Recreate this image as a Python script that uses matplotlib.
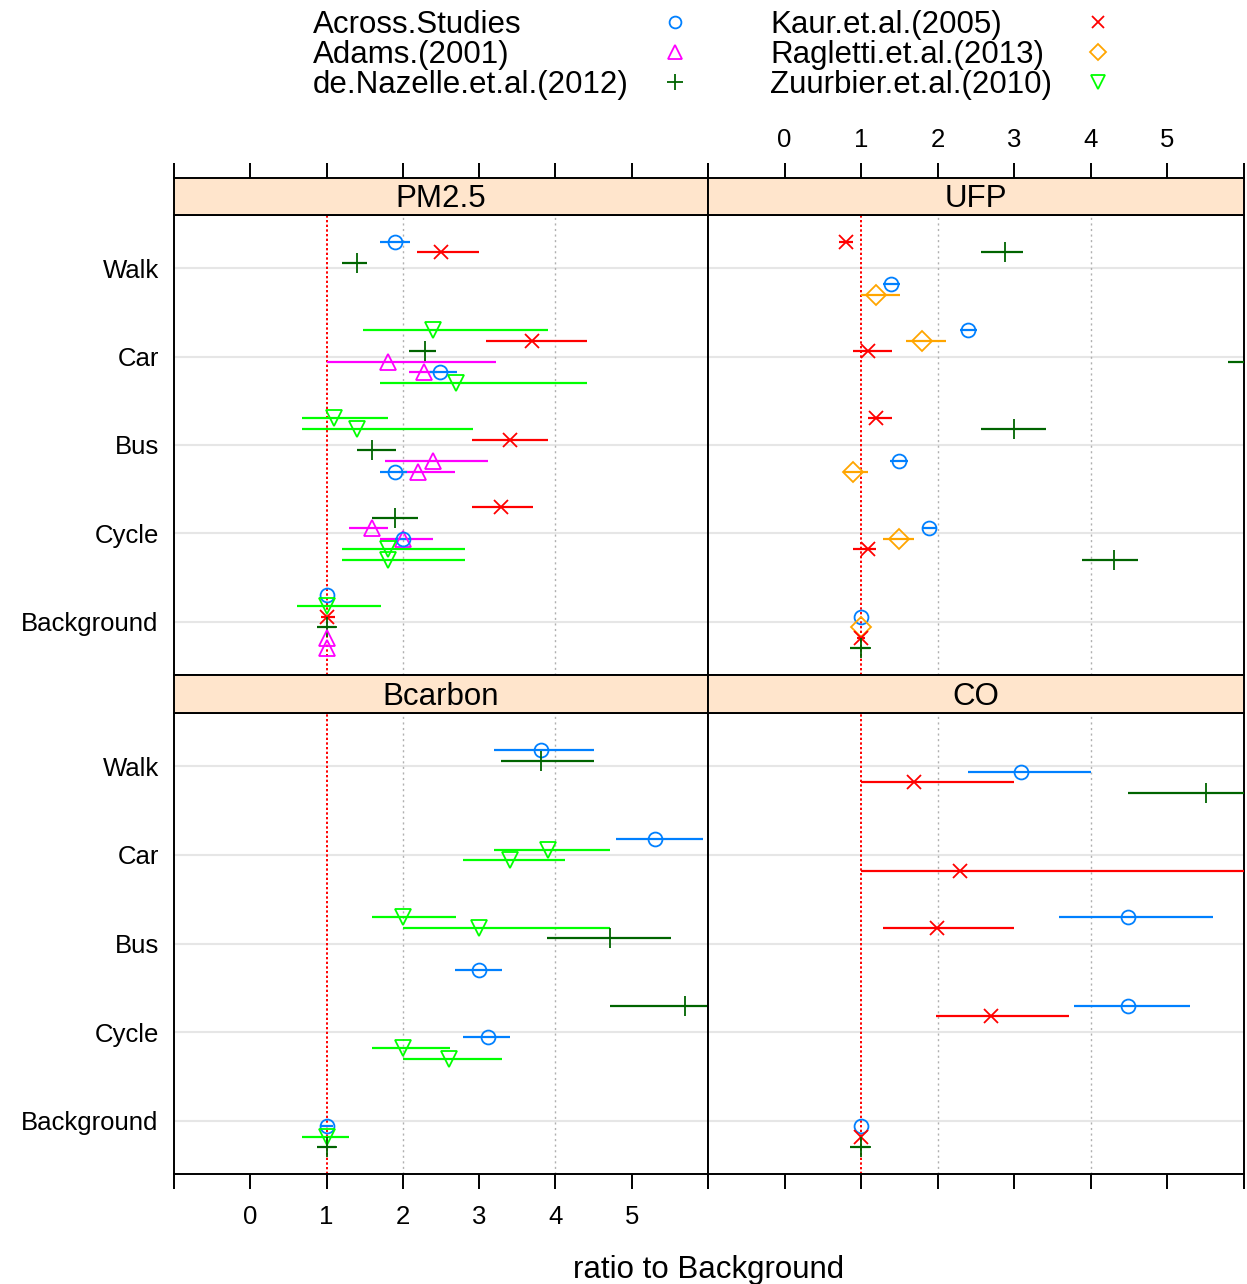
import matplotlib
matplotlib.use("Agg")
import matplotlib.pyplot as plt

plt.rcParams['font.family'] = ['Liberation Sans', 'DejaVu Sans']

# ---- data -------------------------------------------------------------
modes = ["Background", "Cycle", "Bus", "Car", "Walk"]
pollutants = ["PM2.5", "UFP", "Bcarbon", "CO"]

study_names = {
    "AS": "Across.Studies",
    "AD": "Adams.(2001)",
    "DN": "de.Nazelle.et.al.(2012)",
    "KA": "Kaur.et.al.(2005)",
    "RA": "Ragletti.et.al.(2013)",
    "ZU": "Zuurbier.et.al.(2010)",
}
legend_order = ["AS", "AD", "DN", "KA", "RA", "ZU"]

# (mode, study, row slot inside the mode band, ratio, lower, upper)
pm25 = [
    ("Walk", "AS", 0, 1.90, 1.70, 2.10),
    ("Walk", "KA", 1, 2.50, 2.19, 3.00),
    ("Walk", "DN", 2, 1.40, 1.20, 1.53),
    ("Car", "ZU", 0, 2.40, 1.48, 3.90),
    ("Car", "KA", 1, 3.69, 3.09, 4.42),
    ("Car", "DN", 2, 2.29, 2.08, 2.43),
    ("Car", "AD", 3, 1.80, 1.00, 3.22),
    ("Car", "AD", 4, 2.28, 2.08, 2.45),
    ("Car", "AS", 4, 2.49, 2.35, 2.71),
    ("Car", "ZU", 5, 2.70, 1.70, 4.42),
    ("Bus", "ZU", 0, 1.10, 0.68, 1.80),
    ("Bus", "ZU", 1, 1.40, 0.68, 2.92),
    ("Bus", "KA", 2, 3.40, 2.90, 3.90),
    ("Bus", "DN", 3, 1.60, 1.40, 1.91),
    ("Bus", "AD", 4, 2.39, 1.77, 3.11),
    ("Bus", "AD", 5, 2.20, 1.95, 2.69),
    ("Bus", "AS", 5, 1.90, 1.70, 2.05),
    ("Cycle", "KA", 0, 3.29, 2.90, 3.71),
    ("Cycle", "DN", 1, 1.90, 1.60, 2.20),
    ("Cycle", "AD", 2, 1.60, 1.29, 1.80),
    ("Cycle", "AD", 3, 2.00, 1.70, 2.40),
    ("Cycle", "AS", 3, 2.00, 1.90, 2.10),
    ("Cycle", "ZU", 4, 1.80, 1.20, 2.81),
    ("Cycle", "ZU", 5, 1.80, 1.20, 2.81),
    ("Background", "AS", 0, 1.00, 1.00, 1.00),
    ("Background", "ZU", 1, 1.00, 0.61, 1.72),
    ("Background", "KA", 2, 1.00, 0.93, 1.11),
    ("Background", "DN", 3, 1.00, 0.88, 1.12),
    ("Background", "AD", 4, 1.00, 1.00, 1.00),
    ("Background", "AD", 5, 1.00, 1.00, 1.00),
]

ufp = [
    ("Walk", "KA", 0, 0.80, 0.71, 0.90),
    ("Walk", "DN", 1, 2.88, 2.57, 3.11),
    ("Walk", "AS", 4, 1.39, 1.29, 1.51),
    ("Walk", "RA", 5, 1.19, 1.00, 1.51),
    ("Car", "AS", 0, 2.39, 2.29, 2.51),
    ("Car", "RA", 1, 1.79, 1.59, 2.11),
    ("Car", "KA", 2, 1.09, 0.89, 1.40),
    ("Car", "DN", 3, 7.00, 5.79, 8.20),
    ("Bus", "KA", 0, 1.19, 1.09, 1.40),
    ("Bus", "DN", 1, 3.00, 2.57, 3.41),
    ("Bus", "AS", 4, 1.50, 1.38, 1.61),
    ("Bus", "RA", 5, 0.90, 0.78, 1.09),
    ("Cycle", "AS", 2, 1.89, 1.79, 1.99),
    ("Cycle", "RA", 3, 1.50, 1.29, 1.69),
    ("Cycle", "KA", 4, 1.09, 0.89, 1.20),
    ("Cycle", "DN", 5, 4.30, 3.88, 4.61),
    ("Background", "AS", 2, 1.00, 1.00, 1.00),
    ("Background", "RA", 3, 1.00, 1.00, 1.00),
    ("Background", "KA", 4, 1.00, 0.95, 1.05),
    ("Background", "DN", 5, 1.00, 0.85, 1.12),
]

bcarbon = [
    ("Walk", "AS", 1, 3.81, 3.20, 4.50),
    ("Walk", "DN", 2, 3.81, 3.28, 4.50),
    ("Car", "AS", 1, 5.31, 4.79, 5.93),
    ("Car", "ZU", 2, 3.90, 3.20, 4.72),
    ("Car", "ZU", 3, 3.40, 2.79, 4.12),
    ("Bus", "ZU", 0, 2.00, 1.59, 2.70),
    ("Bus", "ZU", 1, 3.00, 2.00, 4.71),
    ("Bus", "DN", 2, 4.71, 3.89, 5.52),
    ("Bus", "AS", 5, 3.00, 2.68, 3.30),
    ("Cycle", "DN", 0, 5.70, 4.71, 6.60),
    ("Cycle", "AS", 3, 3.11, 2.79, 3.41),
    ("Cycle", "ZU", 4, 2.00, 1.59, 2.62),
    ("Cycle", "ZU", 5, 2.60, 2.00, 3.30),
    ("Background", "AS", 3, 1.00, 0.92, 1.08),
    ("Background", "ZU", 4, 1.00, 0.68, 1.30),
    ("Background", "DN", 5, 1.00, 0.88, 1.12),
]

co = [
    ("Walk", "AS", 3, 3.09, 2.39, 4.00),
    ("Walk", "KA", 4, 1.69, 1.00, 3.00),
    ("Walk", "DN", 5, 5.50, 4.48, 6.50),
    ("Car", "KA", 4, 2.29, 1.00, 8.00),
    ("Bus", "AS", 0, 4.49, 3.58, 5.60),
    ("Bus", "KA", 1, 1.99, 1.29, 3.00),
    ("Cycle", "AS", 0, 4.49, 3.78, 5.29),
    ("Cycle", "KA", 1, 2.69, 1.98, 3.71),
    ("Background", "AS", 3, 1.00, 1.00, 1.00),
    ("Background", "KA", 4, 1.00, 1.00, 1.00),
    ("Background", "DN", 5, 1.00, 0.85, 1.12),
]

panel_data = [pm25, ufp, bcarbon, co]

# ---- style -------------------------------------------------------------
colors = {"AS": "#0080ff", "AD": "#ff00ff", "DN": "#006400",
          "KA": "#ff0000", "RA": "#ffa500", "ZU": "#00ff00"}
markers = {"AS": "o", "AD": "^", "DN": "+", "KA": "x", "RA": "D", "ZU": "v"}
msizes = {"AS": 10, "AD": 12, "DN": 14, "KA": 10, "RA": 10, "ZU": 12}

W, H = 1247, 1284
fig = plt.figure(figsize=(W / 100, H / 100), dpi=100)


def px_axes(x0, y0, x1, y1):
    return fig.add_axes([x0 / W, 1 - y1 / H, (x1 - x0) / W, (y1 - y0) / H])


xticks = list(range(-1, 7))
xlabels = [""] + [str(v) for v in range(0, 6)] + [""]
big = 22.5
small = 18.5

cols = [(174, 708), (708, 1244)]
rows = [(178, 215, 675), (675, 713, 1174)]

for k, name in enumerate(pollutants):
    r, c = divmod(k, 2)
    x0, x1 = cols[c]
    s0, p0, p1 = rows[r]

    ax = px_axes(x0, p0, x1, p1)
    ax.set_xlim(-1, 6)
    ax.set_ylim(0.4, 5.6)
    for v in range(1, 6):
        ax.axhline(v, color="#e6e6e6", lw=1.5, zorder=1)
    for v in (2, 4):
        ax.axvline(v, color="#b0b0b0", lw=1.0, ls=(0, (1.5, 2.5)), zorder=1)
    ax.axvline(1, color="red", lw=1.4, ls=(0, (1.2, 1.2)), zorder=2)

    for mode, st, slot, est, lo, hi in panel_data[k]:
        y = modes.index(mode) + 1 + 0.30 - 0.12 * slot
        ax.plot([lo, hi], [y, y], color=colors[st], lw=1.6,
                solid_capstyle="butt", zorder=3)
        ax.plot([est], [y], linestyle="none", marker=markers[st],
                ms=msizes[st], mfc="none", mec=colors[st], mew=1.3, zorder=4)

    for sp in ax.spines.values():
        sp.set_linewidth(1.4)
    ax.set_xticks(xticks)
    ax.set_xticklabels(xlabels, fontsize=small)
    ax.tick_params(axis="x", direction="out", length=11, width=1.4,
                   top=False, bottom=(r == 1), labelbottom=(r == 1 and c == 0),
                   pad=11)
    ax.set_yticks(range(1, 6))
    if c == 0:
        ax.set_yticklabels(modes, fontsize=small)
        ax.tick_params(axis="y", length=0, pad=11)
    else:
        ax.tick_params(axis="y", length=0, labelleft=False)

    # strip
    sx = px_axes(x0, s0, x1, p0)
    sx.set_facecolor("#ffe5cc")
    sx.set_xlim(-1, 6)
    sx.set_ylim(0, 1)
    sx.set_yticks([])
    for sp in sx.spines.values():
        sp.set_linewidth(1.4)
    sx.text(2.5, 0.42, name, ha="center", va="center", fontsize=big)
    sx.set_xticks(xticks)
    sx.set_xticklabels(xlabels, fontsize=small)
    sx.tick_params(axis="x", direction="out", length=11, width=1.4,
                   bottom=False, labelbottom=False,
                   top=(r == 0), labeltop=(r == 0 and c == 1), pad=8)

fig.text(709 / W, 1 - 1270 / H, "ratio to Background", ha="center",
         va="center", fontsize=big)

# legend
lax = px_axes(0, 0, W, 110)
lax.set_xlim(0, W)
lax.set_ylim(110, 0)
lax.axis("off")
text_x = [313, 770]
mark_x = [675, 1098]
row_y = [25, 55, 85]
for i, st in enumerate(legend_order):
    c, rr = divmod(i, 3)
    lax.text(text_x[c], row_y[rr], study_names[st], ha="left", va="center",
             fontsize=big)
    lax.plot([mark_x[c]], [row_y[rr] - 3], linestyle="none", marker=markers[st],
             ms=msizes[st] * 0.85, mfc="none", mec=colors[st], mew=1.3)

fig.savefig("out.png", dpi=100)
